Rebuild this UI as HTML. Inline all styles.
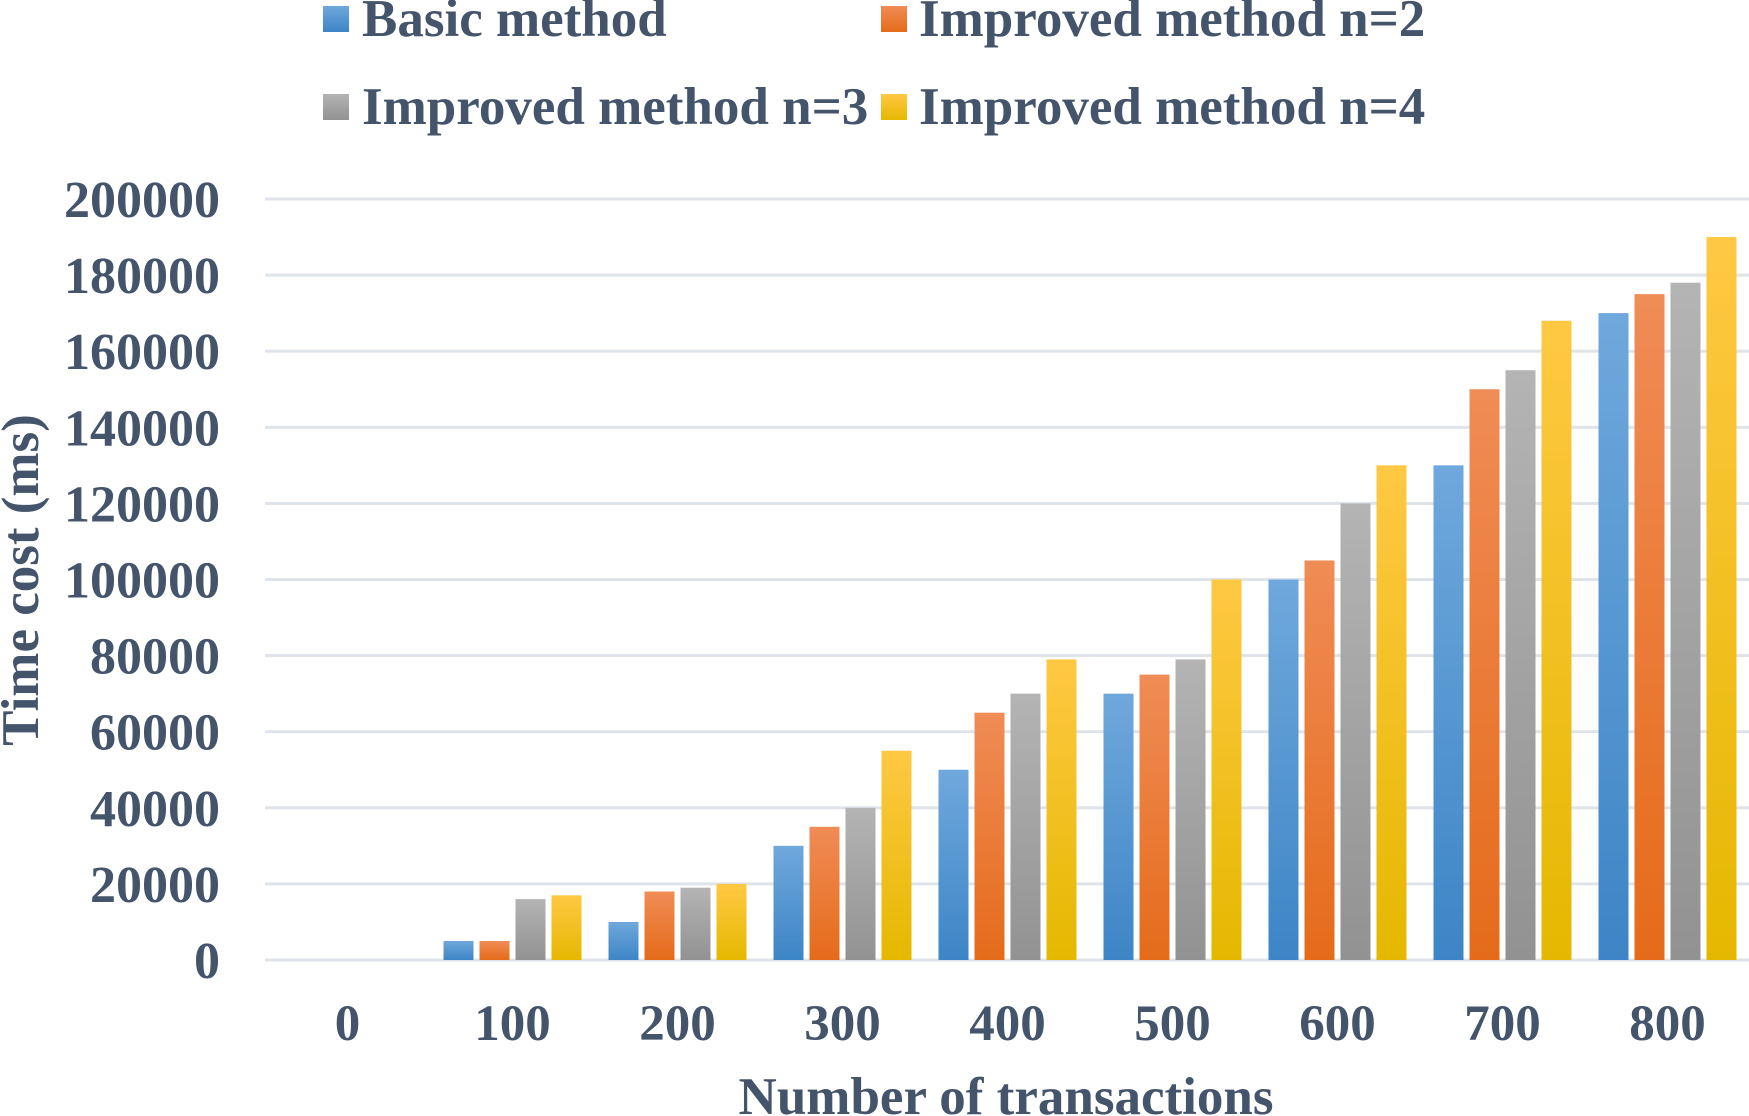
<!DOCTYPE html>
<html><head><meta charset="utf-8"><style>
html,body{margin:0;padding:0;background:#fff;}
svg{display:block;}
text{font-family:"Liberation Serif",serif;font-weight:bold;fill:#44546a;}
</style></head><body>
<svg width="1749" height="1116">
<defs>
<linearGradient id="g0" x1="0" y1="0" x2="0" y2="1"><stop offset="0" stop-color="#6fa8dc"/><stop offset="1" stop-color="#3d85c6"/></linearGradient>
<linearGradient id="g1" x1="0" y1="0" x2="0" y2="1"><stop offset="0" stop-color="#f08c56"/><stop offset="1" stop-color="#e56b1a"/></linearGradient>
<linearGradient id="g2" x1="0" y1="0" x2="0" y2="1"><stop offset="0" stop-color="#b4b4b4"/><stop offset="1" stop-color="#929292"/></linearGradient>
<linearGradient id="g3" x1="0" y1="0" x2="0" y2="1"><stop offset="0" stop-color="#ffc843"/><stop offset="1" stop-color="#e5b800"/></linearGradient>
</defs>
<g id="grid"></g>
<g id="bars"></g>
<g id="labels"></g>
<g>
<rect x="323" y="6" width="26" height="26" fill="url(#g0)"/>
<text x="362" y="36" font-size="53">Basic method</text>
<rect x="881" y="6" width="26" height="26" fill="url(#g1)"/>
<text x="919" y="36" font-size="53">Improved method n=2</text>
<rect x="323" y="94" width="26" height="26" fill="url(#g2)"/>
<text x="362" y="124" font-size="53">Improved method n=3</text>
<rect x="881" y="94" width="26" height="26" fill="url(#g3)"/>
<text x="919" y="124" font-size="53">Improved method n=4</text>
</g>
<text x="1006" y="1114" font-size="53" text-anchor="middle">Number of transactions</text>
<text transform="translate(38,580) rotate(-90)" font-size="53" text-anchor="middle">Time cost (ms)</text>
</svg>
<script>
const categories=["0","100","200","300","400","500","600","700","800"];
const basic=[0,5000,10000,30000,50000,70000,100000,130000,170000];
const n2=[0,5000,18000,35000,65000,75000,105000,150000,175000];
const n3=[0,16000,19000,40000,70000,79000,120000,155000,178000];
const n4=[0,17000,20000,55000,79000,100000,130000,168000,190000];
const yTicks=[0,20000,40000,60000,80000,100000,120000,140000,160000,180000,200000];
const seriesNames=["basic","n2","n3","n4"];
const NS="http://www.w3.org/2000/svg";
const L=265,R=1750,T=199,B=960,YMAX=200000;
const bw=(R-L)/categories.length;
const y=v=>B-(v/YMAX)*(B-T);
const xc=i=>L+bw*(i+0.5);
const grid=document.getElementById('grid'),bars=document.getElementById('bars'),labels=document.getElementById('labels');
yTicks.forEach(t=>{
 const l=document.createElementNS(NS,'rect');
 l.setAttribute('x',L);l.setAttribute('y',y(t)-1.5);l.setAttribute('width',R-L);l.setAttribute('height',3);
 l.setAttribute('fill','#dfe3ea');
 
 
 grid.appendChild(l);
 const tx=document.createElementNS(NS,'text');
 tx.setAttribute('x',220);tx.setAttribute('y',y(t)+18);tx.setAttribute('font-size','52');tx.setAttribute('text-anchor','end');
 tx.textContent=String(t);
 
 
 labels.appendChild(tx);
});
const series=[basic,n2,n3,n4];
categories.forEach((c,i)=>{
 series.forEach((s,k)=>{
  const r=document.createElementNS(NS,'rect');
  const x0=xc(i)-69+k*36;
  r.setAttribute('x',x0);r.setAttribute('width',30);
  r.setAttribute('y',y(s[i]));r.setAttribute('height',B-y(s[i]));
  r.setAttribute('fill','url(#g'+k+')');
  
  
  bars.appendChild(r);
 });
 const tx=document.createElementNS(NS,'text');
 tx.setAttribute('x',xc(i));tx.setAttribute('y',1040);tx.setAttribute('font-size','51');tx.setAttribute('text-anchor','middle');
 tx.textContent=c;
 
 
 labels.appendChild(tx);
});
</script>
</body></html>
